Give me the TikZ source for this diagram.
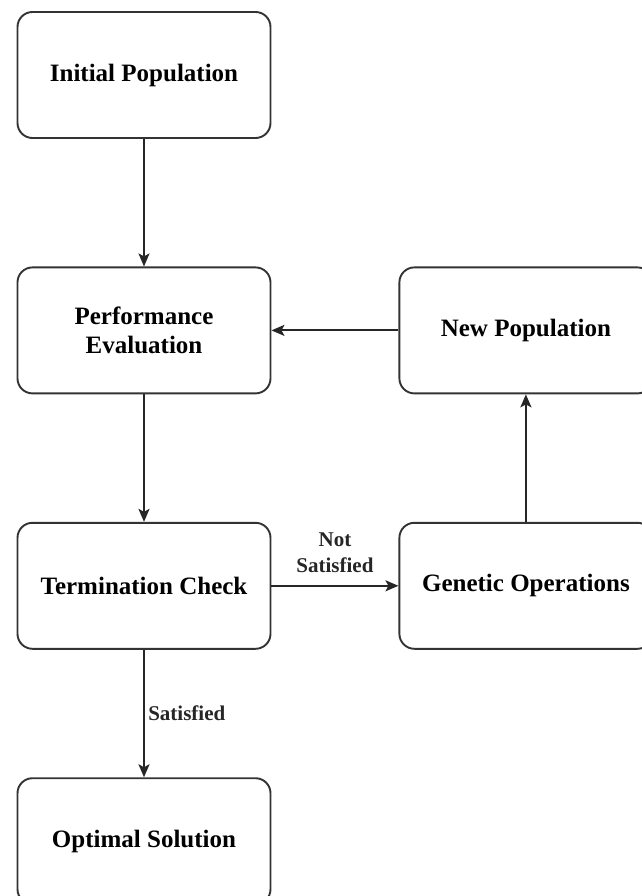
\documentclass[tikz,border=0pt]{standalone}
\usepackage{fontspec}
\setmainfont{Liberation Serif}
\usetikzlibrary{positioning,arrows.meta}

\begin{document}
\begin{tikzpicture}[x=1pt, y=1pt, node distance=127.5pt and 127pt,
                    line width=1.9pt,
                    main node/.style={draw=black!80, rounded corners=15pt,
                      minimum width=253pt, minimum height=126pt, align=center,
                      font=\fontsize{25}{29}\selectfont\bfseries},
                    flow/.style={-{Stealth[length=13pt,width=11pt,inset=3pt]}, black!85},
                    cond/.style={font=\fontsize{21}{25}\selectfont\bfseries, align=center}]
    \useasboundingbox (0,0) rectangle (641,-896);

    \node[main node] (init) at (144,-75)     {Initial Population};
    \node[main node] (eval) [below=of init]  {Performance\\Evaluation};
    \node[main node] (term) [below=of eval]  {Termination Check};
    \node[main node] (opt)  [below=of term]  {Optimal Solution};
    \node[main node] (gen)  [right=of term]  {Genetic Operations};
    \node[main node] (pop)  [right=of eval]  {New Population};

    \draw[flow] (init) -- (eval);
    \draw[flow] (eval) -- (term);
    \draw[flow] (term) -- node[cond, above, yshift=9pt] {Not\\[1pt]Satisfied} (gen);
    \draw[flow] (term) -- node[cond, right, pos=0.5] {Satisfied} (opt);
    \draw[flow] (gen) -- (pop);
    \draw[flow] (pop) -- (eval);
\end{tikzpicture}
\end{document}
